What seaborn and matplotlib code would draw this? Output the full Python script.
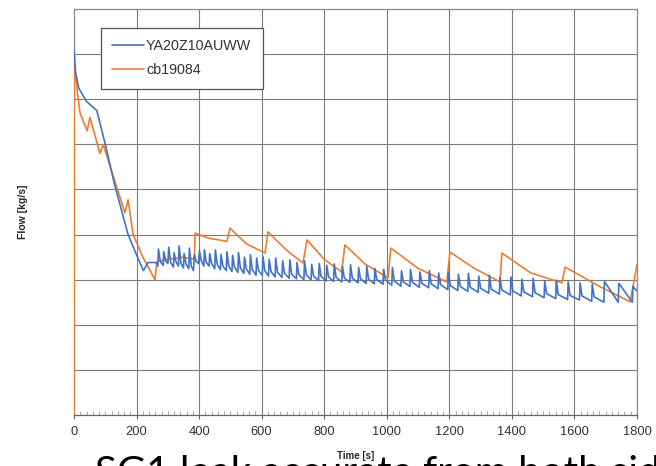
import numpy as np
import pandas as pd
import matplotlib
matplotlib.use("Agg")
import matplotlib.pyplot as plt
from matplotlib.ticker import MultipleLocator
import seaborn as sns

# ---------------- data ----------------
series_names = ["YA20Z10AUWW", "cb19084"]

blue_time = [0, 5, 15, 40, 73, 100, 130, 173, 200, 222, 237, 262,
             268, 270, 276, 285, 287, 293, 300, 303, 309, 318, 320, 326,
             334, 336, 342, 350, 352, 358, 367, 369, 375, 382, 385, 391,
             398, 401, 407, 415, 417, 423, 432, 434, 440, 450, 452, 458,
             468, 470, 476, 487, 489, 495, 505, 507, 513, 524, 526, 532,
             543, 545, 551, 562, 564, 570, 582, 584, 590, 602, 604, 610,
             622, 624, 630, 643, 645, 651, 665, 667, 673, 688, 690, 696,
             711, 713, 719, 735, 737, 743, 758, 760, 766, 782, 784, 790,
             806, 808, 814, 830, 832, 838, 856, 858, 864, 882, 884, 890,
             908, 910, 916, 934, 936, 942, 960, 962, 968, 988, 990, 996,
             1016, 1018, 1024, 1045, 1047, 1053, 1074, 1076, 1082,
             1104, 1106, 1112, 1134, 1136, 1142, 1164, 1166, 1172,
             1195, 1197, 1203, 1227, 1229, 1235, 1259, 1261, 1267,
             1292, 1294, 1300, 1326, 1328, 1334, 1360, 1362, 1368,
             1395, 1397, 1403, 1430, 1432, 1438, 1466, 1468, 1474,
             1503, 1505, 1511, 1540, 1542, 1548, 1578, 1580, 1586,
             1616, 1618, 1624, 1655, 1657, 1663,
             1694, 1696, 1740, 1742, 1785, 1787, 1800]
blue_flow = [8.10, 7.60, 7.25, 6.95, 6.75, 6.00, 5.10, 4.00, 3.55, 3.20, 3.38, 3.38,
             3.30, 3.68, 3.40, 3.32, 3.62, 3.42, 3.36, 3.72, 3.38, 3.28, 3.60, 3.40,
             3.30, 3.75, 3.36, 3.26, 3.58, 3.35, 3.24, 3.70, 3.30, 3.20, 3.55, 3.40,
             3.36, 3.64, 3.42, 3.30, 3.66, 3.38, 3.30, 3.58, 3.36, 3.24, 3.66, 3.34,
             3.22, 3.56, 3.30, 3.20, 3.62, 3.30, 3.18, 3.54, 3.28, 3.16, 3.60, 3.26,
             3.14, 3.50, 3.24, 3.12, 3.55, 3.22, 3.10, 3.48, 3.20, 3.10, 3.52, 3.20,
             3.08, 3.45, 3.18, 3.06, 3.48, 3.16, 3.05, 3.42, 3.14, 3.03, 3.44, 3.12,
             3.02, 3.38, 3.11, 3.00, 3.42, 3.10, 3.00, 3.34, 3.08, 2.98, 3.36, 3.07,
             2.97, 3.32, 3.06, 2.96, 3.35, 3.05, 2.95, 3.30, 3.04, 2.94, 3.33, 3.03,
             2.93, 3.27, 3.02, 2.92, 3.30, 3.01, 2.91, 3.25, 3.00, 2.90, 3.23, 2.99,
             2.88, 3.27, 2.97, 2.86, 3.20, 2.95, 2.85, 3.23, 2.94,
             2.83, 3.17, 2.92, 2.82, 3.20, 2.91, 2.80, 3.15, 2.89,
             2.78, 3.17, 2.87, 2.76, 3.12, 2.85, 2.74, 3.14, 2.83,
             2.72, 3.08, 2.81, 2.70, 3.10, 2.79, 2.68, 3.05, 2.77,
             2.66, 3.06, 2.75, 2.64, 3.01, 2.73, 2.62, 3.03, 2.71,
             2.60, 2.98, 2.69, 2.58, 2.99, 2.67, 2.56, 2.95, 2.65,
             2.55, 2.93, 2.64, 2.52, 2.90, 2.62,
             2.50, 2.96, 2.50, 2.92, 2.50, 2.85, 2.75]

orange_time = [0, 1, 10, 19, 42, 51, 83, 93, 163, 173, 189, 220, 259, 265,
               300, 350, 385, 387, 430, 489, 499, 550, 611, 620, 680, 732,
               745, 800, 856, 866, 930, 1004, 1013, 1100, 1192, 1202, 1280,
               1362, 1368, 1460, 1560, 1570, 1680, 1778, 1800]
orange_flow = [0.00, 7.80, 7.20, 6.70, 6.30, 6.60, 5.80, 6.00, 4.48, 4.77, 4.00, 3.50, 3.00, 3.40,
               3.45, 3.50, 3.45, 4.03, 3.92, 3.85, 4.14, 3.80, 3.59, 4.06, 3.65, 3.37,
               3.88, 3.45, 3.17, 3.77, 3.35, 3.04, 3.70, 3.25, 2.95, 3.61, 3.25,
               2.95, 3.59, 3.15, 2.93, 3.28, 2.85, 2.51, 3.33]

x_ticks = [0, 200, 400, 600, 800, 1000, 1200, 1400, 1600, 1800]
y_grid = [0, 1, 2, 3, 4, 5, 6, 7, 8, 9]
x_label = "Time [s]"
y_label = "Flow [kg/s]"
caption = "SG1 leak accurate from both sides"
colors = ["#4472C4", "#ED7D31"]

df = pd.concat([
    pd.DataFrame({"time": blue_time, "flow": blue_flow, "series": series_names[0]}),
    pd.DataFrame({"time": orange_time, "flow": orange_flow, "series": series_names[1]}),
], ignore_index=True)

# ---------------- plot ----------------
sns.set_theme(style="white")
plt.rcParams["font.family"] = ["Liberation Sans", "DejaVu Sans"]

W, H = 656, 466
fig = plt.figure(figsize=(W / 100, H / 100), dpi=100)
L, R, T, B = 74, 637, 9, 415
ax = fig.add_axes([L / W, 1 - B / H, (R - L) / W, (B - T) / H])

sns.lineplot(data=df, x="time", y="flow", hue="series", hue_order=series_names,
             palette=colors, sort=False, estimator=None, linewidth=1.2,
             legend=False, ax=ax)
lines = ax.get_lines()
lines[0].set_zorder(4)
lines[1].set_zorder(3)

ax.set_xlim(0, 1800)
ax.set_ylim(0, 9)
ax.set_xticks(x_ticks)
ax.set_xticklabels([str(v) for v in x_ticks])
ax.set_yticks(y_grid)
ax.set_yticklabels([])
ax.xaxis.set_minor_locator(MultipleLocator(20))
ax.grid(True, which="major", color="#7c7c7c", linewidth=0.8)
ax.set_axisbelow(True)
ax.tick_params(axis="x", which="major", direction="out", length=3, width=0.8,
               color="#666666", labelsize=9.3, labelcolor="#333333", pad=5, bottom=True)
ax.tick_params(axis="x", which="minor", direction="in", length=3, width=0.6,
               color="#9a9a9a", bottom=True)
ax.tick_params(axis="y", length=0)
for s in ax.spines.values():
    s.set_color("#8c8c8c")
    s.set_linewidth(0.9)
ax.spines["bottom"].set_color("#666666")

ax.set_xlabel(x_label, fontsize=7, fontweight="bold", labelpad=9)
ax.set_ylabel(y_label, fontsize=7.5, fontweight="bold")
ax.yaxis.set_label_coords((28 - L) / (R - L), 0.5)

leg = ax.legend(lines[:2], series_names, loc="upper left",
                bbox_to_anchor=((101 - L) / (R - L), (B - 28) / (B - T)),
                fontsize=10.3, frameon=True, fancybox=False, framealpha=1,
                edgecolor="#555555", handlelength=2.2, handletextpad=0.15,
                labelspacing=0.7, borderpad=0.8, borderaxespad=0)
leg.get_frame().set_linewidth(0.9)
for t in leg.get_texts():
    t.set_color("#333333")

fig.text(95 / W, 1 - 485 / H, caption, fontsize=29, family=["Lato", "DejaVu Sans"],
         color="black", va="baseline", ha="left")

fig.savefig("out.png", dpi=100)
